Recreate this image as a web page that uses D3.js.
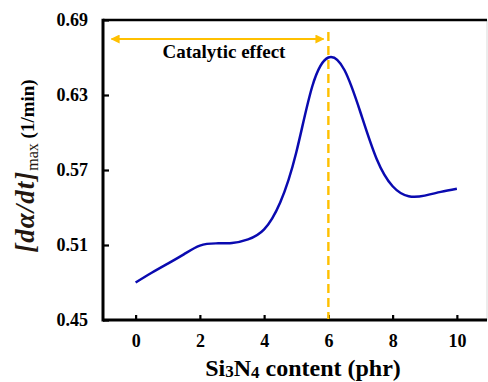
<!DOCTYPE html>
<html>
<head>
<meta charset="utf-8">
<script src="https://cdn.jsdelivr.net/npm/d3@7"></script>
<style>
  body { margin: 0; background: #fff; }
  svg { display: block; }
  svg text { font-family: "Liberation Serif", "Times New Roman", Tinos, "DejaVu Serif", serif; }
  .tick text { font-weight: bold; font-size: 18px; fill: #000; }
</style>
</head>
<body>
<script>
// Si3N4 loading (phr) vs max conversion rate
var content = [0, 0.5, 1, 1.5, 2, 2.5, 3, 3.5, 4, 4.5, 5, 5.5, 6, 6.5, 7, 7.5, 8, 8.5, 9, 9.5, 10];
var rate = [0.480, 0.4878, 0.4951, 0.5025, 0.5095, 0.5113, 0.5116, 0.5145, 0.5225, 0.5440,
            0.5840, 0.6370, 0.6600, 0.6500, 0.6160, 0.5790, 0.5570, 0.5490, 0.5495, 0.5525, 0.5550];
var xTicks = [0, 2, 4, 6, 8, 10];
var yTicks = [0.45, 0.51, 0.57, 0.63, 0.69];
var peakAt = 6;              // dashed marker
var effectRange = [-0.75, 5.85]; // arrow "Catalytic effect"

var width = 488,
    height = 382,
    plotLeft = 103, plotRight = 487, plotTop = 20, plotBottom = 320;

var svg = d3.select("body").append("svg")
    .attr("width", width)
    .attr("height", height);

var defs = svg.append("defs");
defs.append("marker")
    .attr("id", "head")
    .attr("viewBox", "0 0 10 10")
    .attr("refX", 9).attr("refY", 5)
    .attr("markerWidth", 4.5).attr("markerHeight", 4.5)
    .attr("markerUnits", "strokeWidth")
    .attr("orient", "auto-start-reverse")
  .append("path")
    .attr("d", "M0,0L10,5L0,10Z")
    .attr("fill", "#FFC000");

var x = d3.scaleLinear().domain([-1, 11]).range([103.5, 489]);
var y = d3.scaleLinear().domain([0.45, 0.69]).range([plotBottom, plotTop]);

// axes (ticks point inward)
svg.append("g")
    .attr("transform", "translate(0," + plotBottom + ")")
    .call(d3.axisBottom(x).tickValues(xTicks).tickSize(-5).tickPadding(14).tickFormat(d3.format("d")));
svg.append("g")
    .attr("transform", "translate(" + plotLeft + ",0)")
    .call(d3.axisLeft(y).tickValues(yTicks).tickSize(-6).tickPadding(15).tickFormat(d3.format(".2f")));
svg.selectAll(".domain").remove();
svg.selectAll("g[font-family]").attr("font-family", null).attr("font-size", null);
svg.selectAll(".tick line").attr("stroke", "#000").attr("stroke-width", 2.2);

// frame
svg.append("line").attr("x1", plotRight).attr("x2", plotRight).attr("y1", plotTop).attr("y2", plotBottom)
    .attr("stroke", "#d9d9d9").attr("stroke-width", 1);
svg.append("line").attr("x1", plotLeft).attr("x2", plotRight).attr("y1", plotTop).attr("y2", plotTop)
    .attr("stroke", "#000").attr("stroke-width", 2.5);
svg.append("line").attr("x1", plotLeft).attr("x2", plotRight).attr("y1", plotBottom).attr("y2", plotBottom)
    .attr("stroke", "#000").attr("stroke-width", 3);
svg.append("line").attr("x1", plotLeft).attr("x2", plotLeft).attr("y1", plotTop - 1.2).attr("y2", plotBottom + 1.5)
    .attr("stroke", "#000").attr("stroke-width", 3);

// dashed marker at the peak
svg.append("line")
    .attr("x1", x(peakAt)).attr("x2", x(peakAt))
    .attr("y1", 32).attr("y2", plotBottom - 1)
    .attr("stroke", "#FFC000")
    .attr("stroke-width", 2.4)
    .attr("stroke-dasharray", "9,5");

// arrow
svg.append("line")
    .attr("x1", x(effectRange[0])).attr("x2", x(effectRange[1]))
    .attr("y1", 39).attr("y2", 39)
    .attr("stroke", "#FFC000")
    .attr("stroke-width", 2)
    .attr("marker-start", "url(#head)")
    .attr("marker-end", "url(#head)");

svg.append("text")
    .attr("x", 224).attr("y", 58)
    .attr("text-anchor", "middle")
    .style("font-weight", "bold")
    .style("font-size", "19px")
    .text("Catalytic effect");

// curve
var line = d3.line()
    .x(function(d, i) { return x(content[i]); })
    .y(function(d) { return y(d); })
    .curve(d3.curveNatural);

svg.append("path")
    .datum(rate)
    .attr("d", line)
    .attr("fill", "none")
    .attr("stroke", "#0a0ab0")
    .attr("stroke-width", 2.5);

// x title
var xt = svg.append("text")
    .attr("x", 303).attr("y", 376)
    .attr("text-anchor", "middle")
    .style("font-weight", "bold")
    .style("font-size", "24px");
xt.append("tspan").text("Si");
xt.append("tspan").style("font-size", "17px").attr("dy", 1).text("3");
xt.append("tspan").attr("dy", -1).text("N");
xt.append("tspan").style("font-size", "17px").attr("dy", 2).text("4");
xt.append("tspan").attr("dy", -2).text(" content (phr)");

// y title
var yt = svg.append("text")
    .attr("transform", "translate(34,166) rotate(-90)")
    .attr("text-anchor", "middle");
yt.append("tspan")
    .style("font-style", "italic")
    .style("font-weight", "bold")
    .style("font-size", "27px")
    .style("letter-spacing", "1px")
    .attr("fill", "#241710")
    .text("[dα/dt]");
yt.append("tspan")
    .style("font-size", "16px")
    .attr("dy", 4)
    .attr("fill", "#241710")
    .text("max");
yt.append("tspan")
    .style("font-size", "19px")
    .style("font-weight", "bold")
    .attr("dy", -4)
    .text(" (1/min)");
</script>
</body>
</html>
